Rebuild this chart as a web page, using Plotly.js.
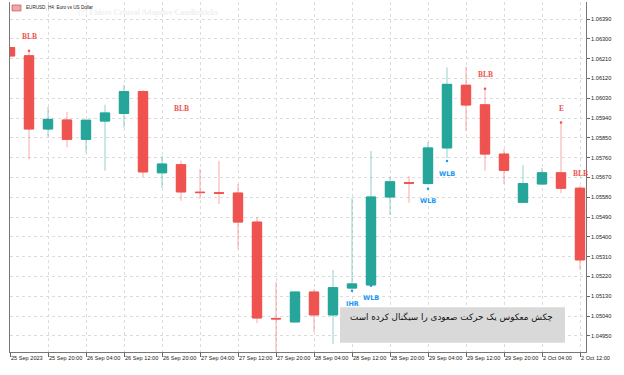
<!DOCTYPE html>
<html>
<head>
<meta charset="utf-8">
<script src="https://cdn.plot.ly/plotly-3.0.1.min.js"></script>
<style>html,body{margin:0;padding:0;background:#fff;}#chart{width:624px;height:375px;}</style>
</head>
<body>
<div id="chart"></div>
<script>
// ---- data ----
const times = ["2023-09-25 12:00","2023-09-25 16:00","2023-09-25 20:00","2023-09-26 00:00","2023-09-26 04:00","2023-09-26 08:00","2023-09-26 12:00","2023-09-26 16:00","2023-09-26 20:00","2023-09-27 00:00","2023-09-27 04:00","2023-09-27 08:00","2023-09-27 12:00","2023-09-27 16:00","2023-09-27 20:00","2023-09-28 00:00","2023-09-28 04:00","2023-09-28 08:00","2023-09-28 12:00","2023-09-28 16:00","2023-09-28 20:00","2023-09-29 00:00","2023-09-29 04:00","2023-09-29 08:00","2023-09-29 12:00","2023-09-29 16:00","2023-09-29 20:00","2023-10-02 00:00","2023-10-02 04:00","2023-10-02 08:00","2023-10-02 12:00"];
const open  = [1.06260,1.06223,1.05890,1.05931,1.05843,1.05926,1.05961,1.06060,1.05691,1.05728,1.05603,1.05600,1.05599,1.05467,1.05029,1.05013,1.05149,1.05045,1.05167,1.05181,1.05581,1.05646,1.05642,1.05804,1.06089,1.06000,1.05776,1.05557,1.05640,1.05691,1.05621];
const high  = [1.06263,1.06246,1.05990,1.05967,1.05931,1.06000,1.06090,1.06067,1.05767,1.05746,1.05708,1.05745,1.05640,1.05490,1.05195,1.05151,1.05163,1.05249,1.05576,1.05790,1.05673,1.05676,1.05831,1.06170,1.06173,1.06078,1.05799,1.05726,1.05713,1.05920,1.05632];
const low   = [1.06217,1.05752,1.05855,1.05807,1.05782,1.05700,1.05896,1.05672,1.05622,1.05564,1.05572,1.05549,1.05345,1.05008,1.04878,1.05011,1.04967,1.04913,1.05164,1.05179,1.05499,1.05555,1.05640,1.05758,1.05882,1.05700,1.05640,1.05555,1.05638,1.05598,1.05249];
const close = [1.06222,1.05890,1.05934,1.05843,1.05930,1.05963,1.06060,1.05695,1.05731,1.05604,1.05601,1.05598,1.05467,1.05031,1.05027,1.05149,1.05045,1.05169,1.05186,1.05581,1.05650,1.05644,1.05804,1.06093,1.05999,1.05776,1.05702,1.05642,1.05691,1.05621,1.05295];

const tickText = ["25 Sep 2023","25 Sep 20:00","26 Sep 04:00","26 Sep 12:00","26 Sep 20:00","27 Sep 04:00","27 Sep 12:00","27 Sep 20:00","28 Sep 04:00","28 Sep 12:00","28 Sep 20:00","29 Sep 04:00","29 Sep 12:00","29 Sep 20:00","2 Oct 04:00","2 Oct 12:00"];
const yTicks = [1.06390,1.06300,1.06210,1.06120,1.06030,1.05940,1.05850,1.05760,1.05670,1.05580,1.05490,1.05400,1.05310,1.05220,1.05130,1.05040,1.04950];

const sigText  = ["BLB","BLB","IHR","WLB","WLB","WLB","BLB","E","BLB"];
const sigBar   = [1, 9, 18, 19, 22, 23, 25, 29, 30];
const sigPrice = [1.06310,1.05981,1.05095,1.05122,1.05563,1.05686,1.06140,1.05981,1.05690];

const redDotBar   = [1, 25, 29];
const redDotPrice = [1.06246,1.06073,1.05920];
const blueDotBar   = [18, 19, 22, 23];
const blueDotPrice = [1.05155,1.05178,1.05619,1.05745];

const chartTitle = "EURUSD, H4: Euro vs US Dollar";
const ghostText = "(?) Ehlers Central Adaptive Candlesticks";
const noteText = "چکش معکوس یک حرکت صعودی را سیگنال کرده است";

// ---- styles ----
const RED = "#EF5350", GREEN = "#26A69A", BLUE = "#2196F3";
const bodyHigh = open.map((o,i)=>Math.max(o, close[i]));
const bodyLow  = open.map((o,i)=>Math.min(o, close[i]));

const traces = [
  { type:"candlestick", x:times, open:open, high:high, low:low, close:close,
    increasing:{line:{color:"rgba(38,166,154,0.5)",width:1}, fillcolor:GREEN},
    decreasing:{line:{color:"rgba(239,83,80,0.5)",width:1}, fillcolor:RED},
    hoverinfo:"skip", showlegend:false },
  { type:"candlestick", x:times, open:open, high:bodyHigh, low:bodyLow, close:close,
    increasing:{line:{color:GREEN,width:1}, fillcolor:GREEN},
    decreasing:{line:{color:RED,width:1}, fillcolor:RED},
    hoverinfo:"skip", showlegend:false },
  { type:"scatter", mode:"markers", x:redDotBar.map(i=>times[i]), y:redDotPrice,
    marker:{color:RED,size:2.5}, hoverinfo:"skip", showlegend:false },
  { type:"scatter", mode:"markers", x:blueDotBar.map(i=>times[i]), y:blueDotPrice,
    marker:{color:BLUE,size:2.5}, hoverinfo:"skip", showlegend:false }
];

const annotations = sigText.map((t,k)=>{
  const blue = (t==="WLB"||t==="IHR");
  return { x:times[sigBar[k]], y:sigPrice[k], xref:"x", yref:"y", text:"<b>"+t+"</b>", showarrow:false,
    font:{family: blue ? "DejaVu Sans" : "Liberation Serif", size: blue ? 6.5 : 7.5, color: blue ? BLUE : RED} };
});
annotations.push({ xref:"paper", yref:"paper", x:0.0243, y:0.9857, xanchor:"left", yanchor:"middle",
  text:chartTitle, showarrow:false, font:{family:"Liberation Sans", size:4.6, color:"#222"} });
annotations.push({ xref:"paper", yref:"paper", x:0.115, y:0.97, xanchor:"left", yanchor:"middle",
  text:"<b>"+ghostText+"</b>", showarrow:false, font:{family:"Liberation Serif", size:8, color:"#f0f0f0"} });
annotations.push({ xref:"paper", yref:"paper", x:0.9462, y:0.12, xanchor:"right", yanchor:"top",
  text:noteText, showarrow:false, font:{family:"DejaVu Sans", size:8.8, color:"#111"} });

const shapes = [
  { type:"rect", xref:"paper", yref:"paper", x0:0.5729, x1:0.9635, y0:0.0266, y1:0.1277,
    fillcolor:"#D9D9D9", line:{width:0}, layer:"above" },
  { type:"rect", xref:"paper", yref:"paper", x0:0.0035, x1:0.0191, y0:0.9745, y1:0.9915,
    fillcolor:"#F4A5A5", line:{color:"#B55",width:0.7}, layer:"above" }
];

const layout = {
  width:624, height:375,
  margin:{l:10, r:38, t:2, b:23},
  paper_bgcolor:"#fff", plot_bgcolor:"#fff",
  showlegend:false, dragmode:false,
  xaxis:{ type:"category", range:[0, 30.316], rangeslider:{visible:false},
    tickmode:"array", tickvals:times.filter((t,i)=>i%2===0), ticktext:tickText,
    ticks:"outside", ticklen:4, tickcolor:"#666", ticklabelposition:"outside right", tickangle:0,
    tickfont:{family:"Liberation Sans", size:5.6, color:"#222"},
    showline:true, linecolor:"#777", linewidth:1,
    showgrid:true, gridcolor:"#dcdcdc", griddash:"dot", gridwidth:1, zeroline:false, fixedrange:true },
  yaxis:{ side:"right", range:[1.048764, 1.064673],
    tickmode:"array", tickvals:yTicks, ticktext:yTicks.map(v=>v.toFixed(5)),
    ticks:"outside", ticklen:3, tickcolor:"#666",
    tickfont:{family:"Liberation Sans", size:5.6, color:"#222"},
    showline:true, mirror:true, linecolor:"#777", linewidth:1,
    showgrid:true, gridcolor:"#dcdcdc", griddash:"dot", gridwidth:1, zeroline:false, fixedrange:true },
  annotations:annotations,
  shapes:shapes
};

Plotly.newPlot("chart", traces, layout, {staticPlot:true, displayModeBar:false});
</script>
</body>
</html>
